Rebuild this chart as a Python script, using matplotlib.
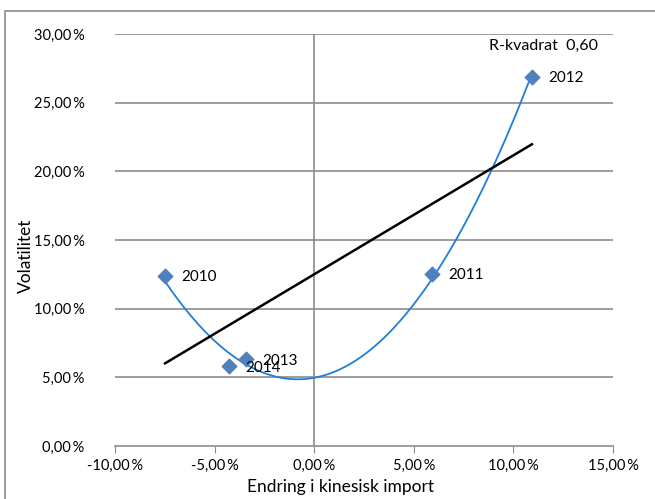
import numpy as np
import matplotlib.pyplot as plt
from matplotlib.ticker import FuncFormatter
from matplotlib.patches import Rectangle

# endring i kinesisk import (%) og volatilitet (%) per år
years = ["2010", "2011", "2012", "2013", "2014"]
import_change = [-7.49, 5.91, 10.93, -3.42, -4.28]
volatility = [12.4, 12.55, 26.9, 6.3, 5.8]
r_squared_text = "R-kvadrat  0,60"

plt.rcParams['font.family'] = ['Lato', 'DejaVu Sans']

fig = plt.figure(figsize=(6.55, 4.99), dpi=100)
ax = fig.add_axes([0.1756, 0.1062, 0.7603, 0.8257])

x = np.array(import_change)
y = np.array(volatility)

# horisontale rutenett og akser
for v in range(5, 31, 5):
    ax.axhline(v, color='#8c8c8c', lw=1.2, zorder=1)
ax.axvline(0, color='#8c8c8c', lw=1.2, zorder=1)

# polynomisk trend (2. grad)
p2 = np.polyfit(x, y, 2)
xs = np.linspace(x.min(), x.max(), 200)
ax.plot(xs, np.polyval(p2, xs), color='#1f7fd6', lw=1.3, zorder=2)

# lineær trend
p1 = np.polyfit(x, y, 1)
xl = np.array([x.min(), x.max()])
ax.plot(xl, np.polyval(p1, xl), color='black', lw=1.8, zorder=3)

ax.scatter(x, y, marker='D', s=55, color='#4f81bd', zorder=4)
for xi, yi, lab in zip(x, y, years):
    ax.annotate(lab, (xi, yi), xytext=(12, -1), textcoords='offset points',
                fontsize=11, va='center', zorder=5)

ax.text(0.970, 0.972, r_squared_text, transform=ax.transAxes, ha='right',
        va='center', fontsize=11.5)

ax.set_xlim(-10, 15)
ax.set_ylim(0, 30)
ax.set_xticks(np.arange(-10, 16, 5))
ax.set_yticks(np.arange(0, 31, 5))

pct = FuncFormatter(lambda v, pos: f"{v:.2f}".replace('.', ',') + "\u2009%")
ax.xaxis.set_major_formatter(pct)
ax.yaxis.set_major_formatter(pct)

for s in ['top', 'right', 'left']:
    ax.spines[s].set_visible(False)
ax.spines['bottom'].set_color('#8c8c8c')
ax.spines['bottom'].set_linewidth(1.2)
ax.tick_params(axis='x', direction='out', length=5, color='#8c8c8c',
               labelsize=10.5, pad=4)
ax.tick_params(axis='y', length=0, labelsize=10.5, pad=22)

ax.set_ylabel("Volatilitet", fontsize=12.5)
ax.yaxis.set_label_coords(-0.162, 0.461)
fig.text(0.52, 0.025, "Endring i kinesisk import", ha='center', va='center',
         fontsize=12.5)

# ramme rundt diagrammet
fig.patches.append(Rectangle((0.008, -0.01), 1.1, 0.987, transform=fig.transFigure,
                             fill=False, edgecolor='#8c8c8c', lw=1.2))

fig.savefig("out.png", dpi=100)
